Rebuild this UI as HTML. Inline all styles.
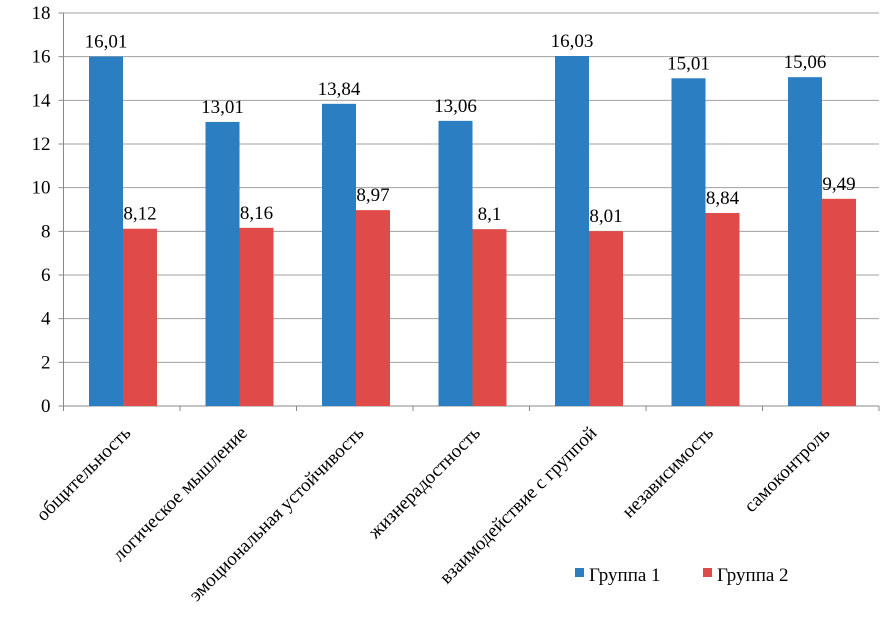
<!DOCTYPE html>
<html><head><meta charset="utf-8"><style>
html,body{margin:0;padding:0;background:#fff;}
svg text{font-family:"Liberation Serif","Times New Roman",Times,"Noto Serif CJK SC","DejaVu Serif",serif;}
svg{display:block;}
</style></head><body>
<svg id="chart" width="893" height="621" viewBox="0 0 893 621"></svg>
<script>
const categories=["общительность","логическое мышление","эмоциональная устойчивость","жизнерадостность","взаимодействие с группой","независимость","самоконтроль"];
const group1=[16.01,13.01,13.84,13.06,16.03,15.01,15.06];
const group2=[8.12,8.16,8.97,8.1,8.01,8.84,9.49];
const yTicks=[0,2,4,6,8,10,12,14,16,18];
const fmt=v=>String(v).replace('.',',');
const svg=document.getElementById('chart');
const NS='http://www.w3.org/2000/svg';
const X0=63.5,X1=879,Y0=406,Y1=13,YMAX=18;
const bw=(X1-X0)/categories.length;
const y=v=>Y0-(v/YMAX)*(Y0-Y1);
const x=i=>X0+i*bw;
function mk(tag,attrs,parent){const e=document.createElementNS(NS,tag);for(const k in attrs)e.setAttribute(k,attrs[k]);(parent||svg).appendChild(e);return e;}
yTicks.forEach(t=>{
  const g=mk('line',{x1:X0,x2:X1,y1:y(t),y2:y(t),stroke:t===0?'#888':'#a0a0a0','stroke-width':1});
  
  
  mk('line',{x1:X0-5,x2:X0,y1:y(t),y2:y(t),stroke:'#888'});
  const l=mk('text',{x:X0-13,y:y(t)+6,'text-anchor':'end','font-size':19,fill:'#000'});
  l.textContent=t;
  
  
});
mk('line',{x1:X0,x2:X0,y1:Y1,y2:Y0,stroke:'#888'});
for(let i=0;i<=categories.length;i++){mk('line',{x1:x(i),x2:x(i),y1:Y0,y2:Y0+5,stroke:'#888'});}
const barW=34,off=25.5;
categories.forEach((c,i)=>{
  const b1=mk('rect',{x:x(i)+off,y:y(group1[i]),width:barW,height:Y0-y(group1[i]),fill:'#2a7ec1'});
  
  
  const b2=mk('rect',{x:x(i)+off+barW,y:y(group2[i]),width:barW,height:Y0-y(group2[i]),fill:'#e04b49'});
  
  
  const t1=mk('text',{x:x(i)+off+barW/2,y:y(group1[i])-9,'text-anchor':'middle','font-size':19});
  t1.textContent=fmt(group1[i]);
  
  
  const t2=mk('text',{x:x(i)+off+barW*1.5,y:y(group2[i])-9,'text-anchor':'middle','font-size':19});
  t2.textContent=fmt(group2[i]);
  
  
  const cx=x(i)+bw/2+10,cy=434;
  const cl=mk('text',{x:cx,y:cy,'text-anchor':'end','font-size':19,transform:`rotate(-45 ${cx} ${cy})`});
  cl.textContent=c;
  
  
});
const lg=mk('g',{});


[['Группа 1','#2a7ec1',575],['Группа 2','#e04b49',703]].forEach(([n,c,lx])=>{
  const r=mk('rect',{x:lx,y:568,width:9,height:9,fill:c},lg);
  
  
  const t=mk('text',{x:lx+14,y:581,'font-size':19},lg);
  t.textContent=n;
  
  
});
</script>
</body></html>
